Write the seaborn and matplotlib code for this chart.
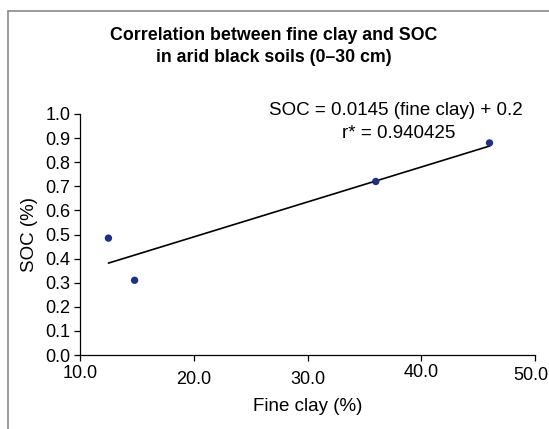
import matplotlib
matplotlib.use("Agg")
import matplotlib.pyplot as plt
import matplotlib.transforms as mtransforms
from matplotlib.lines import Line2D
import numpy as np
import pandas as pd
import seaborn as sns

# Measured samples
fine_clay = [12.5, 14.8, 36.0, 46.0]
soc = [0.485, 0.31, 0.72, 0.88]

# Reported linear relation
slope = 0.0145
intercept = 0.2
r_value = "0.940425"

x_ticks = [10.0, 20.0, 30.0, 40.0, 50.0]
y_ticks = [0.0, 0.1, 0.2, 0.3, 0.4, 0.5, 0.6, 0.7, 0.8, 0.9, 1.0]

sns.set_style("ticks")
plt.rcParams["font.family"] = ["Liberation Sans", "DejaVu Sans"]
plt.rcParams["text.color"] = "black"
plt.rcParams["axes.labelcolor"] = "black"

fig = plt.figure(figsize=(5.49, 4.29), dpi=100)
ax = fig.add_axes([80 / 549, 1 - 355 / 429, 455 / 549, 241 / 429])

df = pd.DataFrame({"Fine clay (%)": fine_clay, "SOC (%)": soc})
fit_x = np.array([min(fine_clay), max(fine_clay)])
fit = pd.DataFrame({"x": fit_x, "y": slope * fit_x + intercept})

sns.lineplot(data=fit, x="x", y="y", ax=ax, color="black", linewidth=1.2)
sns.scatterplot(data=df, x="Fine clay (%)", y="SOC (%)", ax=ax,
                color="#1c2f8a", s=28, edgecolor="none", zorder=3)

ax.set_xlim(10, 50)
ax.set_ylim(0, 1.0)
ax.set_xticks(x_ticks)
ax.set_xticklabels([f"{v:.1f}" for v in x_ticks])
ax.set_yticks(y_ticks)
ax.set_yticklabels([f"{v:.1f}" for v in y_ticks])
ax.tick_params(axis="both", labelsize=13, length=4, width=0.9,
               color="black", pad=3, labelcolor="black")
for side in ("top", "right"):
    ax.spines[side].set_visible(False)
for side in ("left", "bottom"):
    ax.spines[side].set_color("black")
    ax.spines[side].set_linewidth(0.9)

# slight per-label nudges of the x tick labels (points)
label_shifts = [(0, 0), (0, -4.5), (0, -4.5), (0, 0.5), (-3, -1.5)]
for lab, (dx, dy) in zip(ax.get_xticklabels(), label_shifts):
    lab.set_transform(lab.get_transform() +
                      mtransforms.ScaledTranslation(dx / 72, dy / 72,
                                                    fig.dpi_scale_trans))

ax.set_xlabel("Fine clay (%)", fontsize=13.5, labelpad=7.5)
ax.set_ylabel("SOC (%)", fontsize=13.5, labelpad=5)

fig.text(273.5 / 549, 1 - 46.5 / 429,
         "Correlation between fine clay and SOC\nin arid black soils (0\u201330 cm)",
         ha="center", va="center", fontsize=12.8, fontweight="bold",
         linespacing=1.4)

ax.text(0.695, 1.0125, f"SOC = {slope} (fine clay) + {intercept}",
        transform=ax.transAxes, ha="center", va="center", fontsize=13.5)
ax.text(0.70, 0.92, f"r* = {r_value}",
        transform=ax.transAxes, ha="center", va="center", fontsize=13.5)

# outer frame
frame_color = "#7f7f7f"
fig.add_artist(Line2D([8 / 549, 8 / 549], [0, 1 - 10.5 / 429],
                      transform=fig.transFigure, color=frame_color, lw=1.1))
fig.add_artist(Line2D([8 / 549, 1], [1 - 10.5 / 429, 1 - 10.5 / 429],
                      transform=fig.transFigure, color=frame_color, lw=1.1))

fig.savefig("out.png", dpi=100)
